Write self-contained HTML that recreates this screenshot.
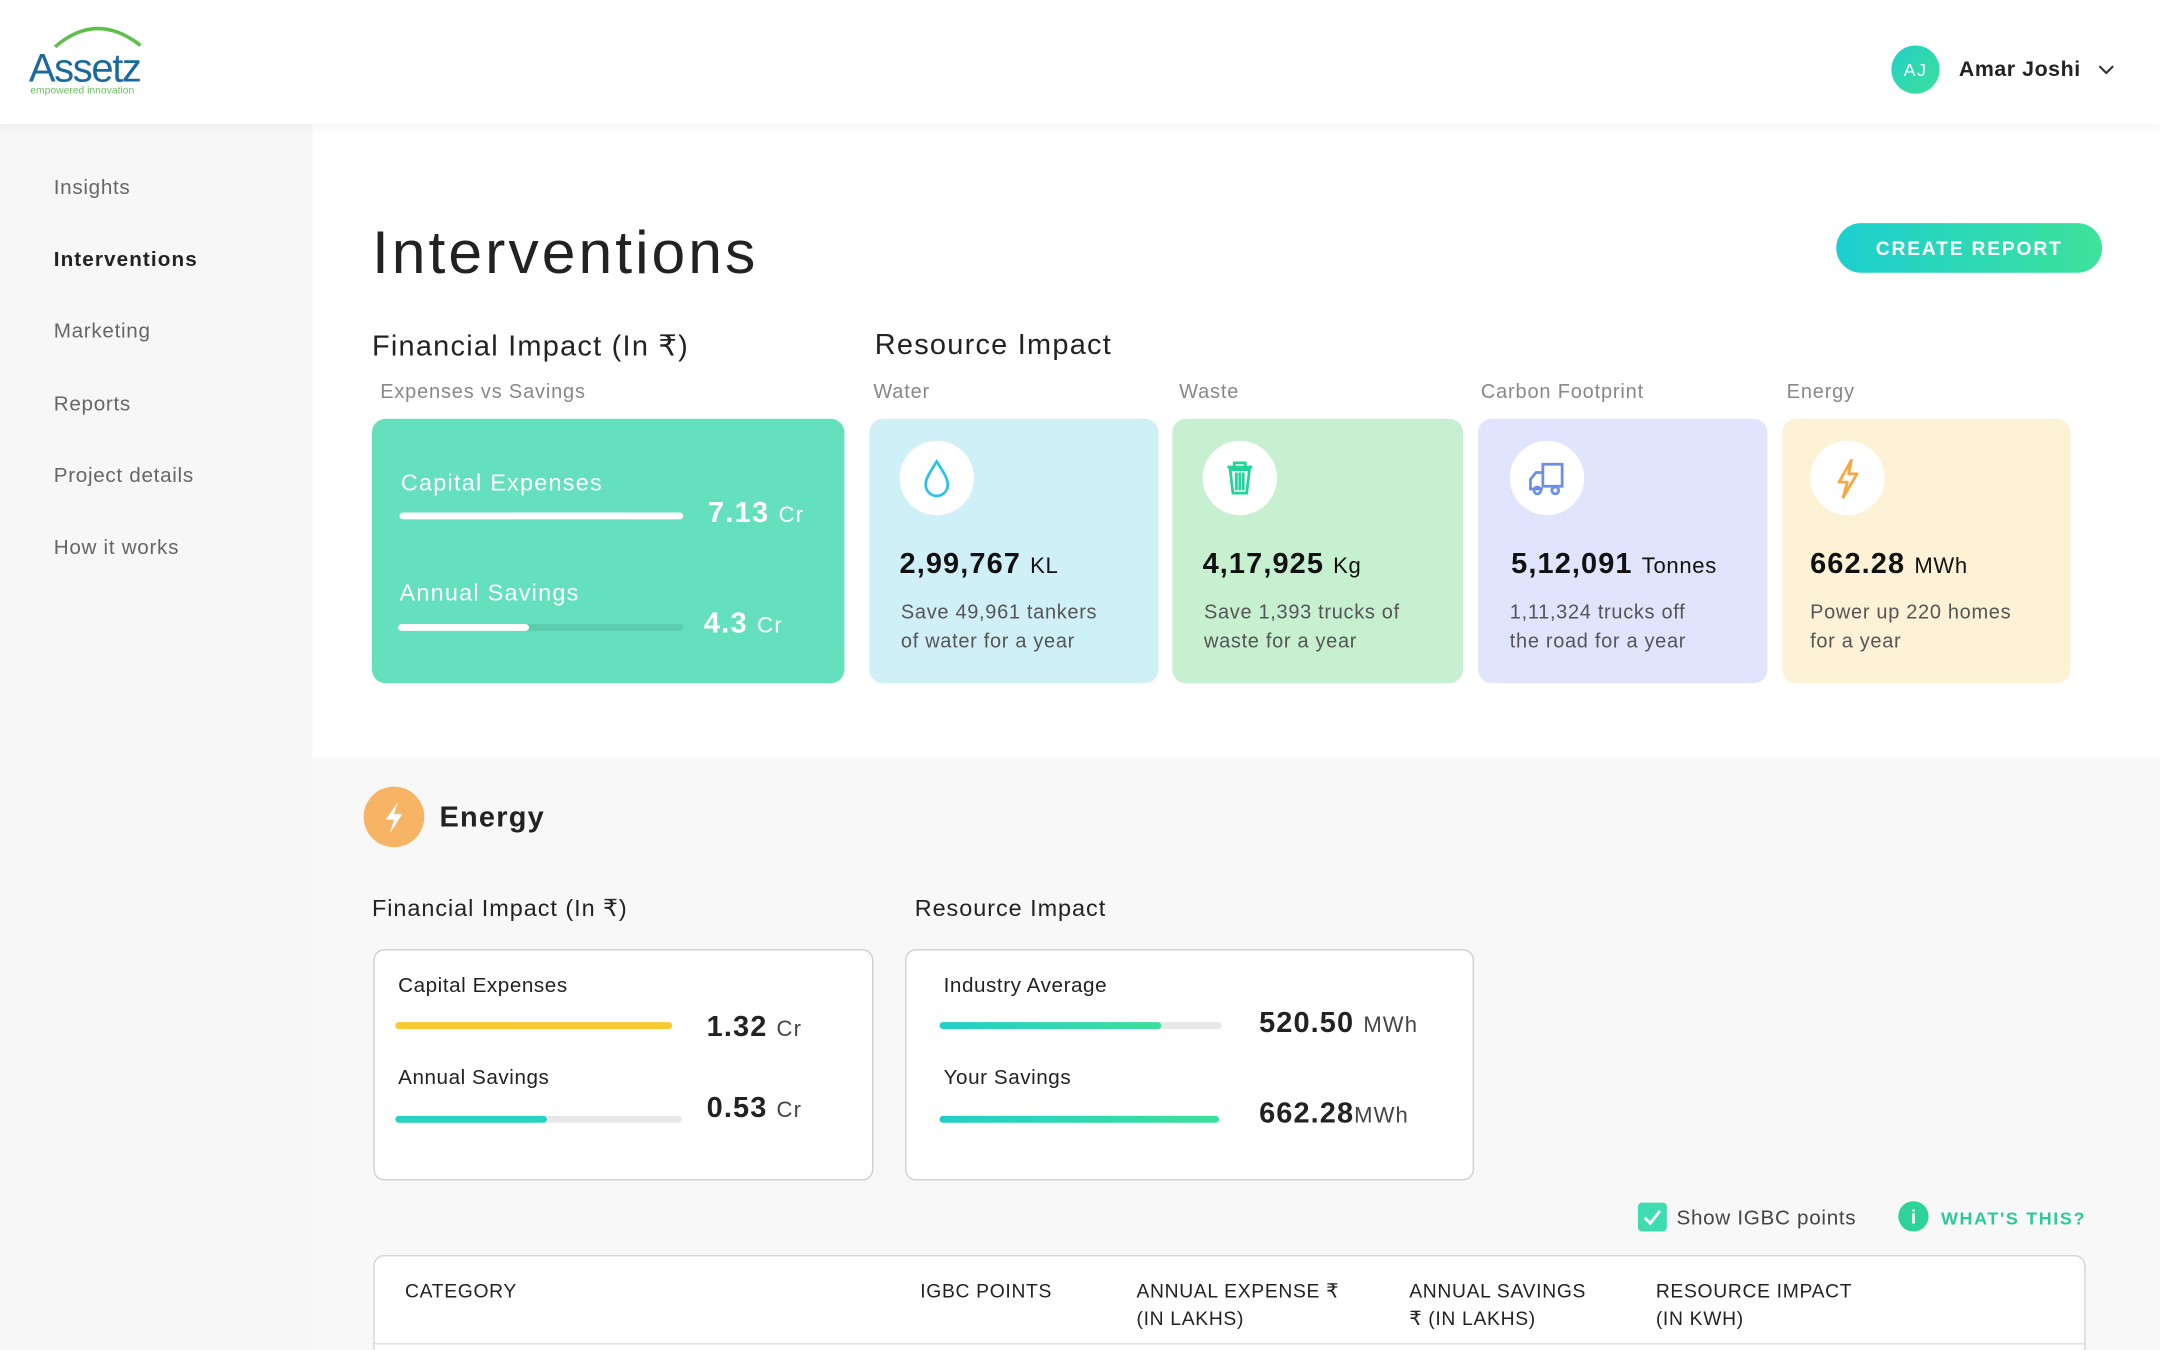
<!DOCTYPE html>
<html><head><meta charset="utf-8">
<style>
*{box-sizing:border-box;margin:0;padding:0}
body{width:2160px;height:1350px;overflow:hidden;background:#f8f8f8;font-family:"Liberation Sans",sans-serif;}
#root{position:absolute;left:0;top:0;width:1568px;height:980px;overflow:hidden;transform:scale(1.37755);transform-origin:0 0;background:#f8f8f8;}
.a{position:absolute;white-space:nowrap}
.side{color:#666;font-size:15px;letter-spacing:.5px}
.sub{color:#888;font-size:14.5px;letter-spacing:.6px}
.card{position:absolute;top:304px;height:192px;border-radius:10px}
.ic{position:absolute;left:22px;top:16px;width:54px;height:54px;border-radius:50%;background:#fff}
.num{position:absolute;left:22px;top:94px;font-size:21px;font-weight:bold;color:#111;letter-spacing:.8px}
.num span{font-size:16px;font-weight:normal;letter-spacing:.5px}
.desc{position:absolute;left:23px;top:131px;font-size:14.5px;line-height:21px;color:#555;letter-spacing:.5px;white-space:nowrap}
.box{position:absolute;top:689px;height:168px;border:1px solid #cfcfcf;border-radius:8px;background:#fff}
.lbl{font-size:15px;color:#222;letter-spacing:.4px}
.big{font-size:21px;font-weight:bold;color:#222;letter-spacing:.8px}
.big span{font-size:16px;font-weight:normal;color:#444}
.th{font-size:14px;color:#222;letter-spacing:.5px;line-height:20px}
</style></head><body>
<div id="root">
<div class="a" style="left:0;top:0;width:1568px;height:90px;background:#fff;box-shadow:0 2px 8px rgba(0,0,0,.06);z-index:2">
  <div class="a" style="left:20px;top:16px">
    <svg width="90" height="58"><path d="M20 18 Q50 -8 82 17" stroke="#5cc04a" stroke-width="2.5" fill="none"/>
    <text x="1" y="43" font-family="Liberation Sans" font-size="29" fill="#1a6aa0" letter-spacing="-1">Assetz</text>
    <text x="2" y="52" font-family="Liberation Sans" font-size="7.5" fill="#6cc060">empowered innovation</text></svg>
  </div>
  <div class="a" style="left:1373px;top:33px;width:35px;height:35px;border-radius:50%;background:linear-gradient(135deg,#22d0c6,#3de09a);color:#fff;font-size:13px;text-align:center;line-height:35px;letter-spacing:1px">AJ</div>
  <div class="a" style="left:1422px;top:42px;font-size:15.5px;font-weight:bold;color:#222;letter-spacing:.4px">Amar Joshi</div>
  <svg class="a" style="left:1522px;top:46px" width="14" height="10"><path d="M2 2 L7 7 L12 2" stroke="#333" stroke-width="1.5" fill="none"/></svg>
</div>
<div class="a" style="left:0;top:90px;width:227px;height:890px;background:#f7f7f7">
  <div class="a side" style="left:39px;top:38px">Insights</div>
  <div class="a side" style="left:39px;top:90px;color:#222;font-weight:bold;letter-spacing:.8px">Interventions</div>
  <div class="a side" style="left:39px;top:142px">Marketing</div>
  <div class="a side" style="left:39px;top:195px">Reports</div>
  <div class="a side" style="left:39px;top:247px">Project details</div>
  <div class="a side" style="left:39px;top:299px">How it works</div>
</div>
<div class="a" style="left:227px;top:90px;width:1341px;height:460px;background:#fff"></div>
<div class="a" style="left:270px;top:159px;font-size:44px;color:#222;letter-spacing:2.2px">Interventions</div>
<div class="a" style="left:1333px;top:162px;width:193px;height:36px;border-radius:18px;background:linear-gradient(90deg,#1ccfd0,#3ee29a);color:#fff;font-size:14px;font-weight:bold;letter-spacing:1.3px;text-align:center;line-height:36px">CREATE REPORT</div>
<div class="a" style="left:270px;top:239px;font-size:21px;color:#222;letter-spacing:.9px">Financial Impact (In ₹)</div>
<div class="a" style="left:635px;top:239px;font-size:21px;color:#222;letter-spacing:.9px">Resource Impact</div>
<div class="a sub" style="left:276px;top:277px">Expenses vs Savings</div>
<div class="a sub" style="left:634px;top:277px">Water</div>
<div class="a sub" style="left:856px;top:277px">Waste</div>
<div class="a sub" style="left:1075px;top:277px">Carbon Footprint</div>
<div class="a sub" style="left:1297px;top:277px">Energy</div>

<div class="card" style="left:270px;width:343px;background:#64e0bc">
  <div class="a" style="left:21px;top:37px;font-size:17px;color:#fff;letter-spacing:.9px">Capital Expenses</div>
  <div class="a" style="left:20px;top:68px;width:206px;height:5px;border-radius:3px;background:rgba(0,0,0,.08)"><div id="fb1f" style="height:5px;border-radius:3px;background:#fff"></div></div>
  <div class="a" style="left:244px;top:57px;font-size:21px;font-weight:bold;color:#fff;letter-spacing:.9px">7.13 <span style="font-size:16px;font-weight:normal">Cr</span></div>
  <div class="a" style="left:20px;top:117px;font-size:17px;color:#fff;letter-spacing:.9px">Annual Savings</div>
  <div class="a" style="left:19px;top:149px;width:207px;height:5px;border-radius:3px;background:rgba(0,0,0,.08)"><div id="fb2f" style="height:5px;border-radius:3px;background:#fff"></div></div>
  <div class="a" style="left:241px;top:137px;font-size:21px;font-weight:bold;color:#fff;letter-spacing:.9px">4.3 <span style="font-size:16px;font-weight:normal">Cr</span></div>
</div>

<div class="card" style="left:631px;width:210px;background:#d0f0f8">
  <div class="ic"><svg width="54" height="54"><path d="M27 15 C22 23 19 27 19 32 A8 8 0 0 0 35 32 C35 27 32 23 27 15Z" fill="none" stroke="#2cc3e8" stroke-width="2"/></svg></div>
  <div class="num">2,99,767 <span>KL</span></div>
  <div class="desc">Save 49,961 tankers<br>of water for a year</div>
</div>
<div class="card" style="left:851px;width:211px;background:#c6f0d0">
  <div class="ic"><svg width="54" height="54"><path d="M18 19 H36 M23 19 V16 H31 V19 M20 21 L22 38 H32 L34 21 Z M24.5 23 V36 M27 23 V36 M29.5 23 V36" fill="none" stroke="#22d39a" stroke-width="2"/></svg></div>
  <div class="num">4,17,925 <span>Kg</span></div>
  <div class="desc">Save 1,393 trucks of<br>waste for a year</div>
</div>
<div class="card" style="left:1073px;width:210px;background:#e0e4fc">
  <div class="ic" style="left:23px"><svg width="54" height="54"><path d="M24 17 H38 V33 H24 Z M24 23 H19 L15 28 V35 H24" fill="none" stroke="#6d8ee8" stroke-width="2"/><circle cx="20" cy="36" r="2.5" fill="none" stroke="#6d8ee8" stroke-width="2"/><circle cx="33" cy="36" r="2.5" fill="none" stroke="#6d8ee8" stroke-width="2"/></svg></div>
  <div class="num" style="left:24px">5,12,091 <span>Tonnes</span></div>
  <div class="desc">1,11,324 trucks off<br>the road for a year</div>
</div>
<div class="card" style="left:1294px;width:209px;background:#fdf1d6">
  <div class="ic" style="left:20px"><svg width="54" height="54"><path d="M30 14 L21 30 H27 L24 41 L34 24 H28 Z" fill="none" stroke="#f8a740" stroke-width="2" stroke-linejoin="round"/></svg></div>
  <div class="num" style="left:20px">662.28 <span>MWh</span></div>
  <div class="desc" style="left:20px">Power up 220 homes<br>for a year</div>
</div>

<div class="a" style="left:264px;top:571px;width:44px;height:44px;border-radius:50%;background:#f8b465"><svg width="44" height="44"><path d="M25 11 L16 24 H22 L19 34 L28 20 H22 Z" fill="#fff"/></svg></div>
<div class="a" style="left:319px;top:582px;font-size:21px;font-weight:bold;color:#222;letter-spacing:.9px">Energy</div>
<div class="a" style="left:270px;top:650px;font-size:17px;color:#222;letter-spacing:.7px">Financial Impact (In ₹)</div>
<div class="a" style="left:664px;top:650px;font-size:17px;color:#222;letter-spacing:.7px">Resource Impact</div>

<div class="box" style="left:271px;width:363px">
  <div class="a lbl" style="left:17px;top:17px">Capital Expenses</div>
  <div class="a" style="left:15px;top:52px;width:201px;height:5px;border-radius:3px;background:#e8e8e8"><div id="eb1" style="height:5px;border-radius:3px;background:#f9c932"></div></div>
  <div class="a big" style="left:241px;top:44px">1.32 <span>Cr</span></div>
  <div class="a lbl" style="left:17px;top:84px">Annual Savings</div>
  <div class="a" style="left:15px;top:120px;width:208px;height:5px;border-radius:3px;background:#e8e8e8"><div id="eb2" style="height:5px;border-radius:3px;background:#27d2c2"></div></div>
  <div class="a big" style="left:241px;top:103px">0.53 <span>Cr</span></div>
</div>
<div class="box" style="left:657px;width:413px">
  <div class="a lbl" style="left:27px;top:17px">Industry Average</div>
  <div class="a" style="left:24px;top:52px;width:205px;height:5px;border-radius:3px;background:#e8e8e8"><div id="eb3" style="height:5px;border-radius:3px;background:linear-gradient(90deg,#22cfc8,#3de09a)"></div></div>
  <div class="a big" style="left:256px;top:41px">520.50 <span>MWh</span></div>
  <div class="a lbl" style="left:27px;top:84px">Your Savings</div>
  <div class="a" style="left:24px;top:120px;width:203px;height:5px;border-radius:3px;background:#e8e8e8"><div id="eb4" style="height:5px;border-radius:3px;background:linear-gradient(90deg,#22cfc8,#3de09a)"></div></div>
  <div class="a big" style="left:256px;top:107px">662.28<span>MWh</span></div>
</div>

<div class="a" style="left:1189px;top:873px;width:21px;height:21px;border-radius:3px;background:#3edcae"><svg width="21" height="21"><path d="M5 11 L9 15 L16 6" stroke="#fff" stroke-width="2" fill="none"/></svg></div>
<div class="a" style="left:1217px;top:876px;font-size:15px;color:#444;letter-spacing:.5px">Show IGBC points</div>
<div class="a" style="left:1378px;top:872px;width:22px;height:22px;border-radius:50%;background:#2fd39a;color:#fff;font-weight:bold;font-size:14px;text-align:center;line-height:22px">i</div>
<div class="a" style="left:1409px;top:877px;font-size:13px;font-weight:bold;color:#2cc99a;letter-spacing:1.2px">WHAT'S THIS?</div>

<div class="a" style="left:271px;top:911px;width:1243px;height:90px;border:1px solid #d5d5d5;border-radius:8px;background:#fff">
  <div class="a th" style="left:22px;top:15px">CATEGORY</div>
  <div class="a th" style="left:396px;top:15px">IGBC POINTS</div>
  <div class="a th" style="left:553px;top:15px">ANNUAL EXPENSE ₹<br>(IN LAKHS)</div>
  <div class="a th" style="left:751px;top:15px">ANNUAL SAVINGS<br>₹ (IN LAKHS)</div>
  <div class="a th" style="left:930px;top:15px">RESOURCE IMPACT<br>(IN KWH)</div>
  <div class="a" style="left:0;top:63px;width:1241px;height:1px;background:#ddd"></div>
</div>
</div>
<script>
const financialCategories = ["Capital Expenses", "Annual Savings"];
const financialValues = [7.13, 4.3];
const energyFinCategories = ["Capital Expenses", "Annual Savings"];
const energyFinValues = [1.32, 0.53];
const energyResCategories = ["Industry Average", "Your Savings"];
const energyResValues = [520.50, 662.28];
const finMaxRef = [7.13, 9.4];
const energyFinMax = [1.32, 1.0];

function frac(v, m){ return Math.max(0, Math.min(1, v / m)); }
document.getElementById('fb1f').style.width = (frac(financialValues[0], finMaxRef[0]) * 100) + '%';
document.getElementById('fb2f').style.width = (frac(financialValues[1], finMaxRef[1]) * 100) + '%';
document.getElementById('eb1').style.width = (frac(energyFinValues[0], energyFinMax[0]) * 100) + '%';
document.getElementById('eb2').style.width = (frac(energyFinValues[1], energyFinMax[1]) * 100) + '%';
const resMax = Math.max.apply(null, energyResValues);
document.getElementById('eb3').style.width = (frac(energyResValues[0], resMax) * 100) + '%';
document.getElementById('eb4').style.width = (frac(energyResValues[1], resMax) * 100) + '%';
</script>
</body></html>
